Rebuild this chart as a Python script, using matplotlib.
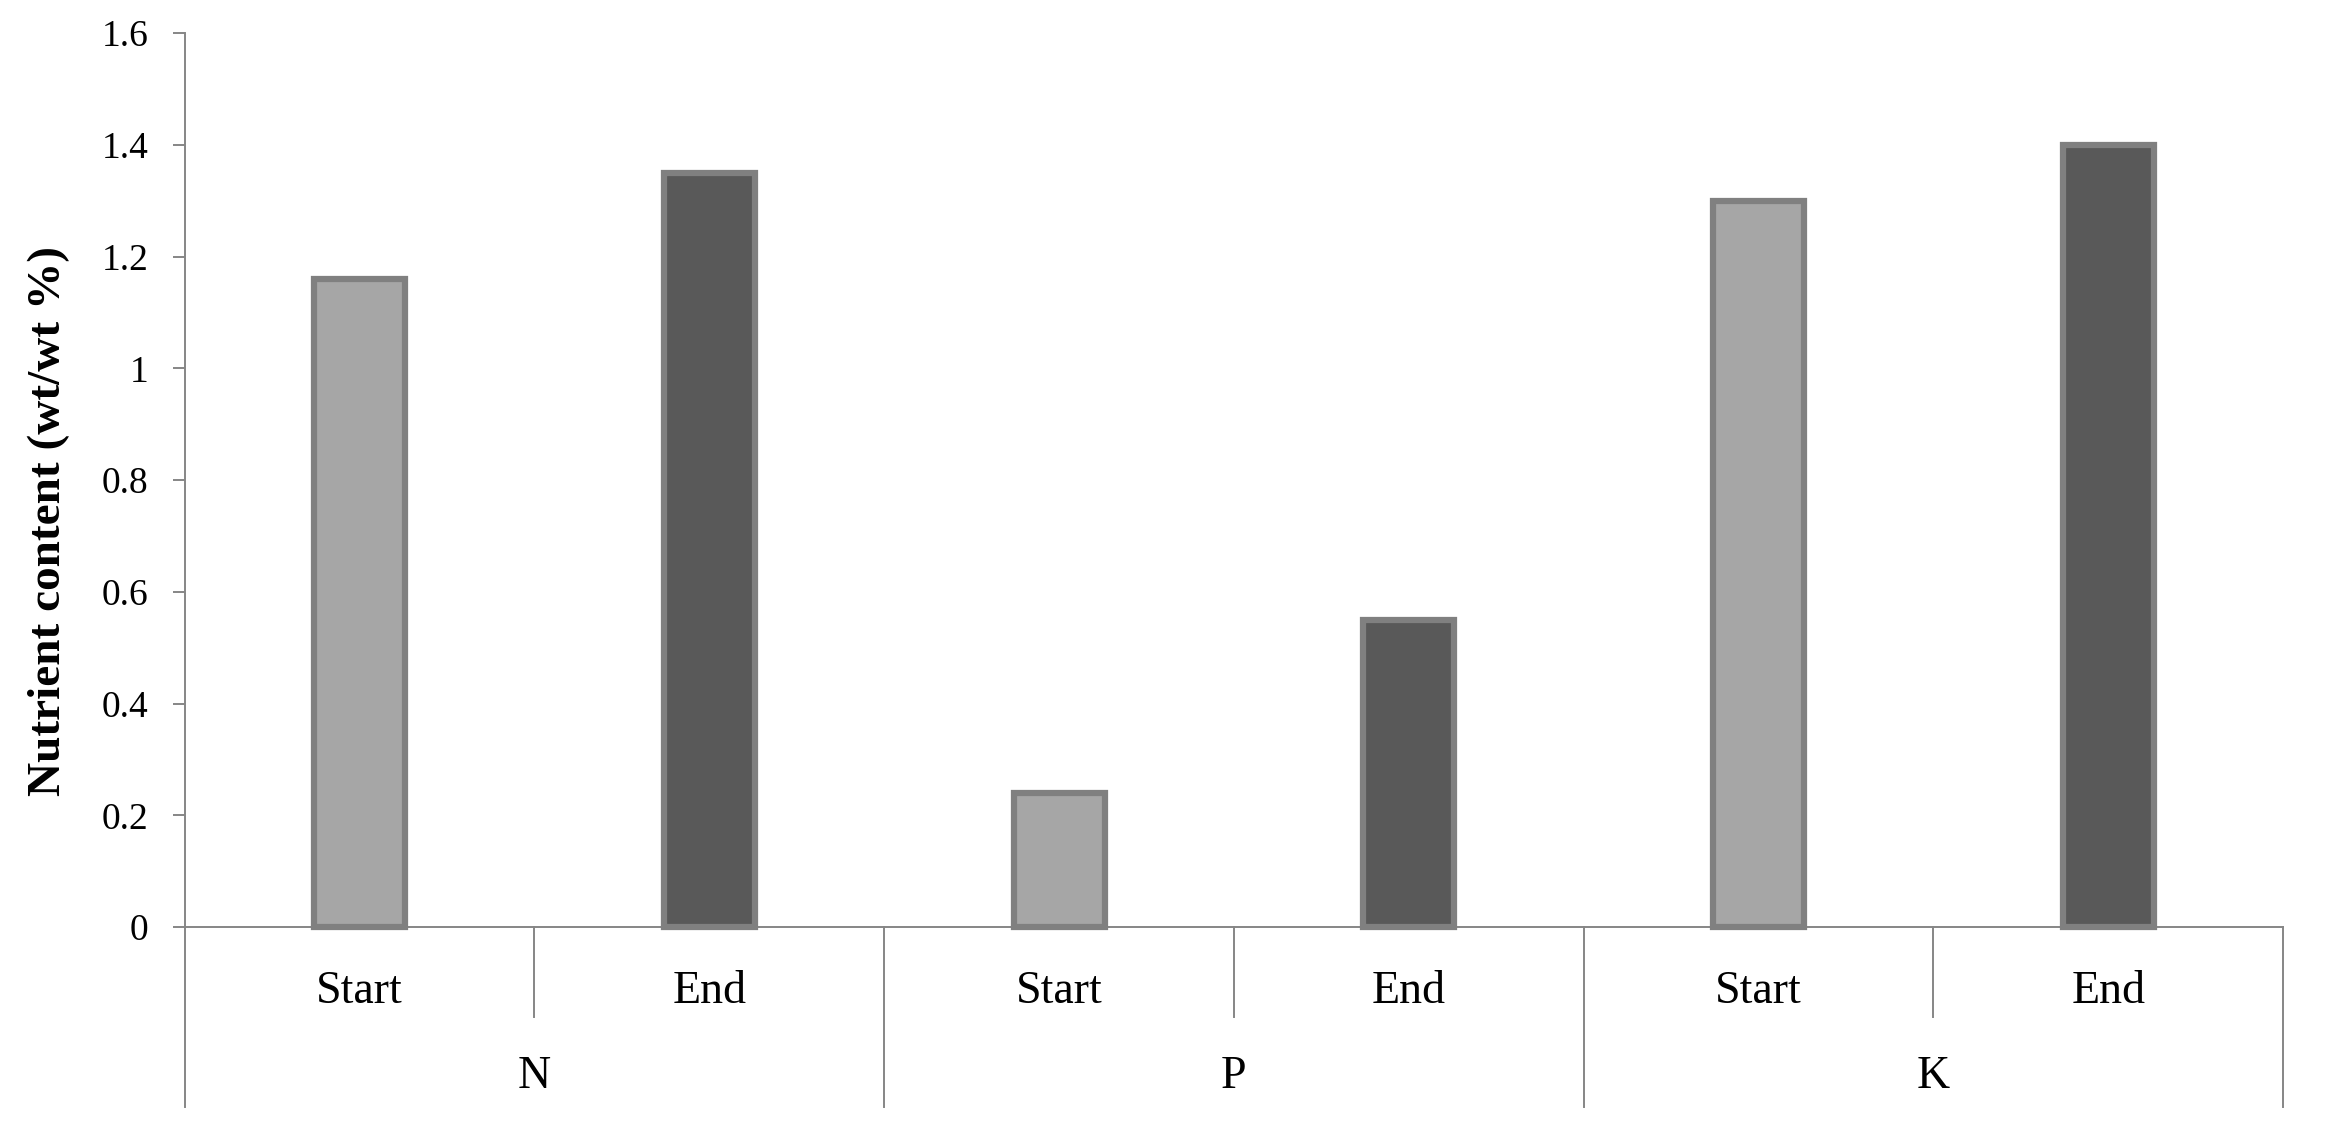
import numpy as np
import matplotlib.pyplot as plt

# data
nutrients = ["N", "P", "K"]
stages = ["Start", "End"]
values = [1.16, 1.35, 0.24, 0.55, 1.30, 1.40]
bar_colors = ["#a6a6a6", "#595959"]
y_ticks = [0, 0.2, 0.4, 0.6, 0.8, 1.0, 1.2, 1.4, 1.6]

axis_col = "#868686"

fig = plt.figure(figsize=(23.37, 11.46), dpi=100)
ax = fig.add_axes([0.079, 0.191, 0.898, 0.780])

x = np.arange(len(values))
cols = [bar_colors[i % 2] for i in range(len(values))]
ax.bar(x, values, width=0.26, color=cols, edgecolor="#808080",
       linewidth=4.5, clip_on=False, zorder=3)

ax.set_xlim(-0.5, len(values) - 0.5)
ax.set_ylim(0, 1.6)
ax.set_yticks(y_ticks)
ax.set_yticklabels(["%g" % v for v in y_ticks], fontfamily="Liberation Serif",
                   fontsize=27)
ax.tick_params(axis="y", length=9, width=1.4, color=axis_col, pad=17)

ax.set_xticks(x)
ax.set_xticklabels([])
ax.tick_params(axis="x", length=0)

for s in ["top", "right"]:
    ax.spines[s].set_visible(False)
for s in ["left", "bottom"]:
    ax.spines[s].set_color(axis_col)
    ax.spines[s].set_linewidth(1.4)

trans = ax.get_xaxis_transform()

# stage labels and small separators
for i in range(len(values)):
    ax.text(x[i], -0.072, stages[i % 2], transform=trans, ha="center",
            va="center", fontfamily="Liberation Serif", fontsize=33)
for g in range(len(nutrients)):
    ax.plot([2 * g + 0.5] * 2, [0, -0.101], transform=trans, color=axis_col,
            lw=1.4, clip_on=False)
    ax.text(2 * g + 0.5, -0.167, nutrients[g], transform=trans, ha="center",
            va="center", fontfamily="Liberation Serif", fontsize=33)

# group separators
for b in range(len(nutrients) + 1):
    ax.plot([2 * b - 0.5] * 2, [0, -0.201], transform=trans, color=axis_col,
            lw=1.4, clip_on=False)

fig.text(0.021, 0.545, "Nutrient content (wt/wt %)", rotation=90,
         ha="center", va="center", fontfamily="Liberation Serif",
         fontweight="bold", fontsize=34)

fig.savefig("out.png", dpi=100)
